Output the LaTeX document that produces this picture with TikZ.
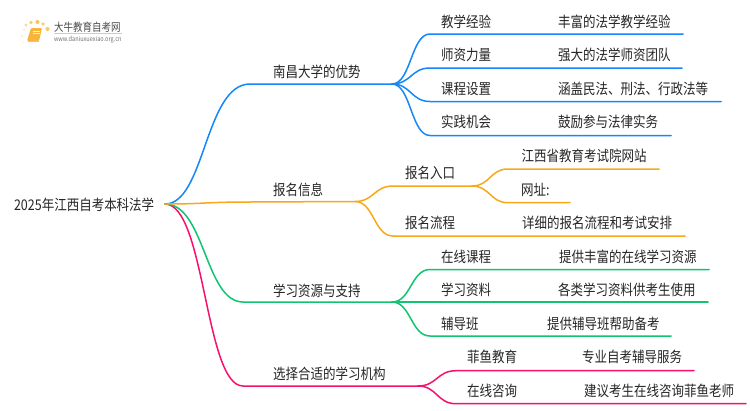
\documentclass[tikz,border=0pt]{standalone}
\usepackage{fontspec}
\setmainfont{Noto Sans CJK SC}
\definecolor{cblue}{HTML}{1587F8}
\definecolor{corange}{HTML}{F7A81B}
\definecolor{cgreen}{HTML}{10C472}
\definecolor{cpink}{HTML}{F8106F}
\definecolor{ctext}{HTML}{262626}
\tikzset{
  lbl/.style={anchor=base west,inner sep=0pt,outer sep=0pt,text=ctext,yscale=1.18,transform shape,font=\fontsize{12.5}{14}\selectfont},
  wire/.style={line width=1.5pt,line cap=round},
  blue wire/.style={wire,draw=cblue},
  orange wire/.style={wire,draw=corange},
  green wire/.style={wire,draw=cgreen},
  pink wire/.style={wire,draw=cpink}
}
\begin{document}
\begin{tikzpicture}[x=1pt,y=-1pt]
\useasboundingbox (0,0) rectangle (750,410);
\fill[white] (0,0) rectangle (750,410);
% logo
\foreach \px/\py/\r/\o in {24/30/1.2/.25,22/36/1.1/.2,23/42/1/.12,26/25/1.7/.45,31/22.5/1.9/.6,37.5/22/2/.7,43/24/1.9/.6,47.5/29/2.1/.6}
  \fill[corange,opacity=\o] (\px,\py) circle (\r);
\fill[corange!85!white,rounded corners=1pt] (31,28) -- (42,28) -- (39,41) -- (27,41) -- cycle;
\draw[corange!70!white,line width=.8pt] (28,41.5) -- (38.5,41.5);
\draw[white,opacity=.8,line width=.5pt] (33,31) -- (40,31) (32.5,33) -- (39.5,33);
\node[lbl,font=\fontsize{9.5}{11}\selectfont,text=black!70] (logot) at (54,31) {大牛教育自考网};
\draw[black!20,line width=.5pt] (54,33.5) -- (122,33.5);
\node[lbl,font=\fontsize{5.6}{7}\selectfont,text=black!55] (logou) at (54,41) {www.daniuxuexiao.org.cn};
% text
\node[lbl] (root) at (14,210) {2025年江西自考本科法学};
\node[lbl] (a) at (273,77) {南昌大学的优势};
\node[lbl] (a1) at (441,27) {教学经验};
\node[lbl] (a1x) at (558,27) {丰富的法学教学经验};
\node[lbl] (a2) at (441,60.5) {师资力量};
\node[lbl] (a2x) at (558,60.5) {强大的法学师资团队};
\node[lbl] (a3) at (441,94) {课程设置};
\node[lbl] (a3x) at (558,94) {涵盖民法、刑法、行政法等};
\node[lbl] (a4) at (441,127.5) {实践机会};
\node[lbl] (a4x) at (558,127.5) {鼓励参与法律实务};
\node[lbl] (b) at (273,195) {报名信息};
\node[lbl] (b1) at (405,178) {报名入口};
\node[lbl] (b11) at (521.5,161) {江西省教育考试院网站};
\node[lbl] (b12) at (521,195.5) {网址:};
\node[lbl] (b2) at (405,228.5) {报名流程};
\node[lbl] (b2x) at (522,228.5) {详细的报名流程和考试安排};
\node[lbl] (c) at (273,296) {学习资源与支持};
\node[lbl] (c1) at (441,262) {在线课程};
\node[lbl] (c1x) at (559,262) {提供丰富的在线学习资源};
\node[lbl] (c2) at (441,295.5) {学习资料};
\node[lbl] (c2x) at (558,295.5) {各类学习资料供考生使用};
\node[lbl] (c3) at (441,329) {辅导班};
\node[lbl] (c3x) at (547,329) {提供辅导班帮助备考};
\node[lbl] (d) at (273,379.5) {选择合适的学习机构};
\node[lbl] (d1) at (467,362) {菲鱼教育};
\node[lbl] (d1x) at (582,362) {专业自考辅导服务};
\node[lbl] (d2) at (467,396) {在线咨询};
\node[lbl] (d2x) at (584,396) {建议考生在线咨询菲鱼老师};
% junction coordinates
\coordinate (R) at (165,204);
\coordinate (Ae) at (250,84);   \coordinate (Ah) at (392,84);
\coordinate (Be) at (250,202);  \coordinate (Bh) at (355,201.5);
\coordinate (Ce) at (243,302);  \coordinate (Ch) at (392,302);
\coordinate (De) at (243,386);  \coordinate (Dh) at (418,386);
\coordinate (A1s) at (430,34);  \coordinate (A1e) at (683,34);
\coordinate (A2s) at (430,68);  \coordinate (A2e) at (682,68);
\coordinate (A3s) at (430,101.5); \coordinate (A3e) at (721,101.5);
\coordinate (A4s) at (430,135.5); \coordinate (A4e) at (671,135.5);
\coordinate (B1s) at (393,186); \coordinate (B1h) at (472,186);
\coordinate (B2s) at (393,236); \coordinate (B2e) at (685,236);
\coordinate (B11s) at (508,169); \coordinate (B11e) at (659,169);
\coordinate (B12s) at (508,202.7); \coordinate (B12e) at (570,202.7);
\coordinate (C1s) at (430,269.5); \coordinate (C1e) at (709,269.5);
\coordinate (C2e) at (708,302);
\coordinate (C3s) at (430,336); \coordinate (C3e) at (671,336);
\coordinate (D1s) at (456,370.7); \coordinate (D1e) at (694,370.7);
\coordinate (D2s) at (456,403.7); \coordinate (D2e) at (746,403.7);
% root branches
\draw[pink wire] (R) .. controls (205,204) and (205,386) .. (De) -- (Dh);
\draw[green wire] (R) .. controls (205,204) and (205,302) .. (Ce) -- (Ch);
\draw[blue wire] (R) .. controls (205,204) and (205,84) .. (Ae) -- (Ah);
\draw[orange wire] (R) .. controls (205,204) and (205,202) .. (Be) -- (Bh);
% blue children
\foreach \s/\e in {A1s/A1e,A2s/A2e,A3s/A3e,A4s/A4e}
  \draw[blue wire] (Ah) .. controls +(19,0) and ([xshift=-19pt]\s) .. (\s) -- (\e);
% orange children
\draw[orange wire] (Bh) .. controls +(19,0) and ([xshift=-19pt]B1s) .. (B1s) -- (B1h);
\draw[orange wire] (Bh) .. controls +(19,0) and ([xshift=-19pt]B2s) .. (B2s) -- (B2e);
\draw[orange wire] (B1h) .. controls +(18,0) and ([xshift=-18pt]B11s) .. (B11s) -- (B11e);
\draw[orange wire] (B1h) .. controls +(18,0) and ([xshift=-18pt]B12s) .. (B12s) -- (B12e);
% green children
\draw[green wire] (Ch) .. controls +(19,0) and ([xshift=-19pt]C1s) .. (C1s) -- (C1e);
\draw[green wire] (Ch) -- (C2e);
\draw[green wire] (Ch) .. controls +(19,0) and ([xshift=-19pt]C3s) .. (C3s) -- (C3e);
% pink children
\draw[pink wire] (Dh) .. controls +(19,0) and ([xshift=-19pt]D1s) .. (D1s) -- (D1e);
\draw[pink wire] (Dh) .. controls +(19,0) and ([xshift=-19pt]D2s) .. (D2s) -- (D2e);
\end{tikzpicture}
\end{document}
